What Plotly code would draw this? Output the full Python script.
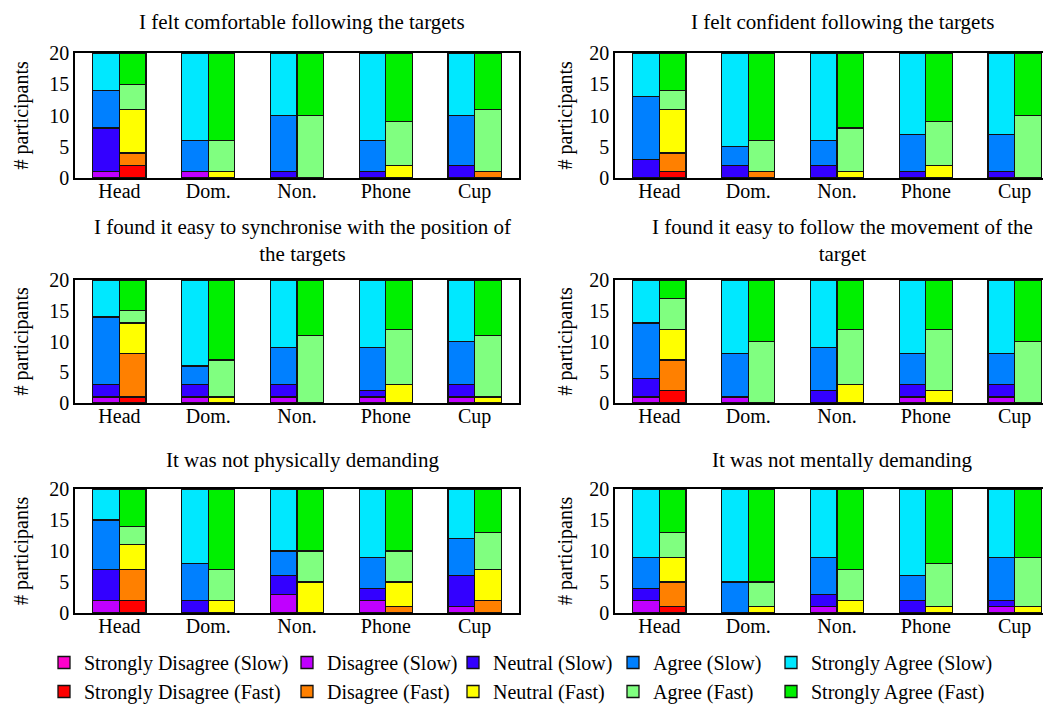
import plotly.graph_objects as go

# ---------------- data ----------------
categories = ["Head", "Dom.", "Non.", "Phone", "Cup"]
levels = ["Strongly Disagree", "Disagree", "Neutral", "Agree", "Strongly Agree"]
speeds = ["Slow", "Fast"]

titles = [
    "I felt comfortable following the targets",
    "I felt confident following the targets",
    "I found it easy to synchronise with the position of<br>the targets",
    "I found it easy to follow the movement of the<br>target",
    "It was not physically demanding",
    "It was not mentally demanding",
]

# rows = levels (SD, D, N, A, SA); columns = categories
q1_slow = [[0, 0, 0, 0, 0], [1, 1, 0, 0, 0], [7, 0, 1, 1, 2], [6, 5, 9, 5, 8], [6, 14, 10, 14, 10]]
q1_fast = [[2, 0, 0, 0, 0], [2, 0, 0, 0, 1], [7, 1, 0, 2, 0], [4, 5, 10, 7, 10], [5, 14, 10, 11, 9]]

q2_slow = [[0, 0, 0, 0, 0], [0, 0, 0, 0, 0], [3, 2, 2, 1, 1], [10, 3, 4, 6, 6], [7, 15, 14, 13, 13]]
q2_fast = [[1, 0, 0, 0, 0], [3, 1, 0, 0, 0], [7, 0, 1, 2, 0], [3, 5, 7, 7, 10], [6, 14, 12, 11, 10]]

q3_slow = [[0, 0, 0, 0, 0], [1, 1, 1, 1, 1], [2, 2, 2, 1, 2], [11, 3, 6, 7, 7], [6, 14, 11, 11, 10]]
q3_fast = [[1, 0, 0, 0, 0], [7, 0, 0, 0, 0], [5, 1, 0, 3, 1], [2, 6, 11, 9, 10], [5, 13, 9, 8, 9]]

q4_slow = [[0, 0, 0, 0, 0], [1, 1, 0, 1, 1], [3, 0, 2, 2, 2], [9, 7, 7, 5, 5], [7, 12, 11, 12, 12]]
q4_fast = [[2, 0, 0, 0, 0], [5, 0, 0, 0, 0], [5, 0, 3, 2, 0], [5, 10, 9, 10, 10], [3, 10, 8, 8, 10]]

q5_slow = [[0, 0, 0, 0, 0], [2, 0, 3, 2, 1], [5, 2, 3, 2, 5], [8, 6, 4, 5, 6], [5, 12, 10, 11, 8]]
q5_fast = [[2, 0, 0, 0, 0], [5, 0, 0, 1, 2], [4, 2, 5, 4, 5], [3, 5, 5, 5, 6], [6, 13, 10, 10, 7]]

q6_slow = [[0, 0, 0, 0, 0], [2, 0, 1, 0, 1], [2, 0, 2, 2, 1], [5, 5, 6, 4, 7], [11, 15, 11, 14, 11]]
q6_fast = [[1, 0, 0, 0, 0], [4, 0, 0, 0, 0], [4, 1, 2, 1, 1], [4, 4, 5, 7, 8], [7, 15, 13, 12, 11]]

y_ticks = [0, 5, 10, 15, 20]

# ---------------- style ----------------
colors_slow = ["#ff00cc", "#c000ff", "#3300ff", "#0080ff", "#00e8ff"]
colors_fast = ["#ff0000", "#ff8000", "#ffff00", "#80ff80", "#00f000"]
FONT = "Liberation Serif"

# the page body has an 8px margin, so the figure is drawn at (8, 8)
PAGE_OFF = 8
WIN_W, WIN_H = 1051, 707
W, H = WIN_W - PAGE_OFF, WIN_H - PAGE_OFF


def fx(px):
    return (px - PAGE_OFF) / W


def fy(py):
    return 1 - (py - PAGE_OFF) / H


questions = [(q1_slow, q1_fast), (q2_slow, q2_fast), (q3_slow, q3_fast),
             (q4_slow, q4_fast), (q5_slow, q5_fast), (q6_slow, q6_fast)]

# window-pixel geometry of plot areas
col_px = [(75, 519), (615, 1043)]
row_px = [(53, 178), (280, 403), (489, 613)]
col_range = [[-0.5, 4.5], [-0.5, 4.32]]
title_x_px = [302, 842]
title_y_px = [22, 241, 460]
ylab_x_px = [21, 565]

BAR_W = 0.3
OFFSET = 0.15

fig = go.Figure()
layout = {}
annotations = []

for qi, (qs, qf) in enumerate(questions):
    r, c = divmod(qi, 2)
    ax = "" if qi == 0 else str(qi + 1)
    xref, yref = "x" + ax, "y" + ax
    for si, (data, cols) in enumerate([(qs, colors_slow), (qf, colors_fast)]):
        sign = -1 if si == 0 else 1
        for li, lev in enumerate(levels):
            name = f"{lev} ({speeds[si]})"
            vals = [v if v != 0 else None for v in data[li]]
            fig.add_trace(go.Bar(
                x=[i + sign * OFFSET for i in range(len(categories))],
                y=vals,
                width=BAR_W,
                name=name,
                legendgroup=name,
                legend="legend" if li == 0 else f"legend{li + 1}",
                showlegend=(qi == 0),
                marker=dict(color=cols[li], line=dict(color="#111111", width=1.3)),
                xaxis=xref, yaxis=yref,
            ))
    x0, x1 = col_px[c]
    y0, y1 = row_px[r]
    layout["xaxis" + ax] = dict(
        domain=[fx(x0), fx(x1)], range=col_range[c], anchor=yref,
        tickvals=list(range(len(categories))), ticktext=categories,
        showline=True, linecolor="black", linewidth=1.5, mirror=True,
        showgrid=False, zeroline=False, ticks="", automargin=False,
        ticklabelstandoff=-6,
        tickfont=dict(family=FONT, size=20, color="black"),
    )
    layout["yaxis" + ax] = dict(
        domain=[fy(y1), fy(y0)], range=[0, 20], anchor=xref,
        tickvals=y_ticks, showline=True, linecolor="black", linewidth=1.5,
        mirror=True, showgrid=False, zeroline=False, ticks="", automargin=False,
        tickfont=dict(family=FONT, size=20, color="black"),
    )
    annotations.append(dict(
        text=titles[qi], x=fx(title_x_px[c]), y=fy(title_y_px[r]),
        xref="paper", yref="paper", xanchor="center", yanchor="middle",
        showarrow=False, font=dict(family=FONT, size=21, color="black"),
    ))
    annotations.append(dict(
        text="# participants", x=fx(ylab_x_px[c]), y=fy((y0 + y1) / 2),
        xref="paper", yref="paper", xanchor="center", yanchor="middle",
        textangle=-90, showarrow=False,
        font=dict(family=FONT, size=20, color="black"),
    ))

legend_text_px = [84, 327, 493, 653, 811]
for li in range(len(levels)):
    key = "legend" if li == 0 else f"legend{li + 1}"
    layout[key] = dict(
        x=fx(legend_text_px[li] - 40), y=fy(643),
        xanchor="left", yanchor="top", orientation="v",
        bgcolor="rgba(0,0,0,0)", borderwidth=0, tracegroupgap=0,
        font=dict(family=FONT, size=20, color="black"),
    )

fig.update_layout(
    **layout,
    annotations=annotations,
    barmode="stack",
    width=W, height=H,
    margin=dict(l=0, r=0, t=0, b=0, autoexpand=False),
    paper_bgcolor="white", plot_bgcolor="white",
    font=dict(family=FONT, size=20, color="black"),
)

fig.write_html("out.html")
